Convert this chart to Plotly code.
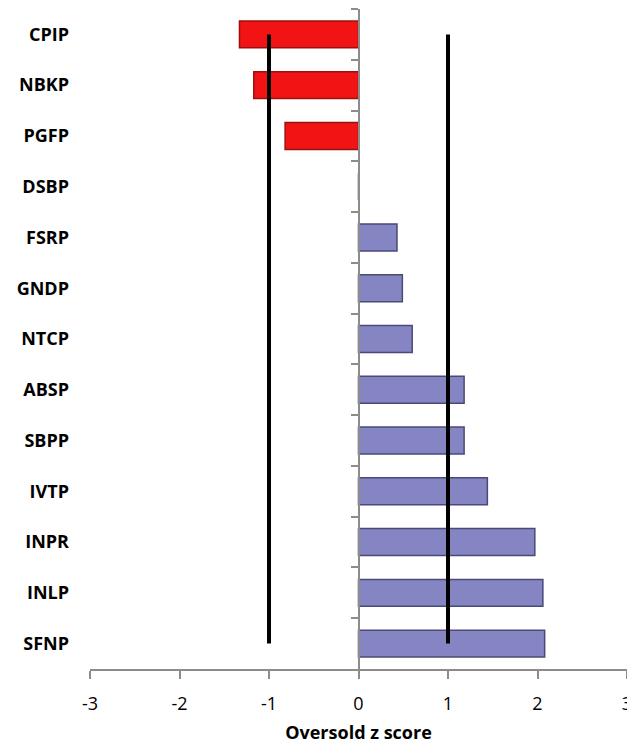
import plotly.graph_objects as go

categories = ["CPIP", "NBKP", "PGFP", "DSBP", "FSRP", "GNDP", "NTCP",
              "ABSP", "SBPP", "IVTP", "INPR", "INLP", "SFNP"]
z_scores = [-1.33, -1.17, -0.82, 0.0, 0.43, 0.49, 0.60,
            1.18, 1.18, 1.44, 1.97, 2.06, 2.08]
threshold_values = [-1, 1]
x_ticks = [-3, -2, -1, 0, 1, 2, 3]

fill_colors = ["#f21414" if v < 0 else "#8585c3" for v in z_scores]
edge_colors = ["#9a1010" if v < 0 else "#4a4a78" for v in z_scores]

fig = go.Figure()
fig.add_trace(go.Bar(
    x=z_scores, y=categories, orientation="h",
    marker=dict(color=fill_colors, line=dict(color=edge_colors, width=1.5)),
    showlegend=False, hoverinfo="x+y",
))
# invisible trace for the axis at x=0
fig.add_trace(go.Bar(
    x=[0] * len(categories), y=categories, orientation="h", yaxis="y2",
    marker=dict(color="rgba(0,0,0,0)"), showlegend=False, hoverinfo="skip",
))
for t in threshold_values:
    fig.add_trace(go.Scatter(
        x=[t, t], y=[categories[0], categories[-1]], mode="lines",
        line=dict(color="black", width=4), showlegend=False, hoverinfo="skip",
    ))

x_min, x_max = x_ticks[0], x_ticks[-1]
zero_pos = (0 - x_min) / (x_max - x_min)
y_range = [len(categories) - 0.5, -0.5]

# the page body has an 8px margin; the figure is sized/margined to compensate
fig.update_layout(
    width=627, height=736,
    margin=dict(l=82, r=8, t=1, b=75),
    plot_bgcolor="white", paper_bgcolor="white",
    bargap=0.47,
    font=dict(family="Open Sans, Lato, sans-serif", color="black"),
    xaxis=dict(
        range=[x_min, x_max], tickvals=x_ticks, ticktext=[str(v) for v in x_ticks],
        showgrid=False, zeroline=False, showline=True, linecolor="#8c8c8c", linewidth=1.5,
        ticks="outside", ticklen=8, tickcolor="#8c8c8c", tickwidth=1.5,
        tickfont=dict(size=18, family="Open Sans, sans-serif"),
        ticklabelstandoff=10, ticklabeloverflow="allow",
        title=dict(text="<b>Oversold z score</b>", font=dict(size=18), standoff=18),
        automargin=False,
    ),
    yaxis=dict(
        categoryorder="array", categoryarray=categories, range=y_range,
        showgrid=False, zeroline=False, showline=False, ticks="",
        tickfont=dict(size=18, family="Open Sans, sans-serif"),
        ticklabelstandoff=20, automargin=False, ticklabeloverflow="allow",
        tickvals=categories, ticktext=["<b>%s</b>" % c for c in categories],
    ),
    yaxis2=dict(
        overlaying="y", anchor="free", position=zero_pos, matches="y",
        categoryorder="array", categoryarray=categories, range=y_range,
        showgrid=False, zeroline=False, showline=True, linecolor="#8c8c8c", linewidth=1.5,
        ticks="outside", tickson="boundaries", ticklen=7, tickcolor="#8c8c8c", tickwidth=1.5,
        showticklabels=False, automargin=False,
    ),
)

fig.write_html("out.html")
